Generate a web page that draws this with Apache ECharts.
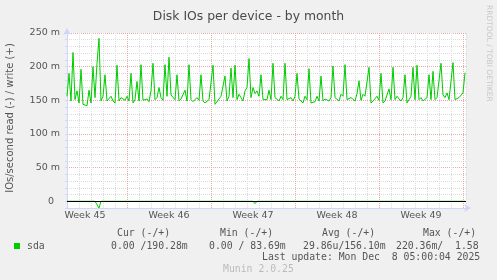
<!DOCTYPE html>
<html>
<head>
<meta charset="utf-8">
<script src="https://cdn.jsdelivr.net/npm/echarts@6/dist/echarts.min.js"></script>
<style>
html,body{margin:0;padding:0;background:#F0F0F0;}
#chart{width:497px;height:280px;}
</style>
</head>
<body>
<div id="chart"></div>
<script>
// ---- data ----
const titleText = 'Disk IOs per device - by month';
const yAxisTitle = 'IOs/second read (-) / write (+)';
const weekLabels = ['Week 45', 'Week 46', 'Week 47', 'Week 48', 'Week 49'];
const weekLabelHours = [84, 252, 420, 588, 756]; // hours from Mon Nov 3 00:00 (mid-week)
const yTickValues = [0, 50, 100, 150, 200, 250];
const startHour = 48;   // first sample (hours from Mon Nov 3 00:00)
const stepHours = 4;    // sample spacing
// write (+) IOs/s, milli units
const writeValues = [
  156,190,149,221,151,164,146,196,144,142,
  142,165,146,200,154,205,242,149,156,188,
  149,151,156,149,146,202,149,154,154,150,
  156,149,190,146,151,178,149,203,150,150,
  152,148,164,205,151,154,169,154,150,203,
  156,214,158,156,151,188,149,152,151,165,
  149,203,151,148,146,154,150,188,149,146,
  148,151,150,202,144,146,152,156,154,186,
  149,156,198,154,202,151,159,154,149,164,
  169,212,154,169,160,164,156,188,151,150,
  151,165,151,205,154,152,149,156,151,205,
  151,151,154,149,156,190,152,149,146,156,
  151,197,146,146,148,156,149,186,149,152,
  154,149,154,201,154,152,149,159,156,203,
  151,152,154,156,149,160,179,150,159,156,
  158,199,146,149,151,156,150,190,146,149,
  151,167,151,199,151,156,152,149,154,188,
  146,151,156,199,151,202,151,154,149,151,
  154,188,151,193,151,154,156,205,158,154,
  161,151,149,206,151,152,154,156,161,191
];
// read (-) IOs/s, milli units (drawn below zero)
const readValues = [
  0,0,0,0,0,0,0,0,0,0, 0,0,0,0,0,0,10,0,0,0,
  0,0,0,0,0,0,0,0,0,0, 0,0,0,0,0,0,0,0,0,0,
  0,0,0,0,0,0,0,0,0,0, 0,0,0,0,0,0,0,0,0,0,
  0,0,0,0,0,0,0,0,0,0, 0,0,0,0,0,0,0,0,0,0,
  0,0,0,0,0,0,0,0,0,0, 0,0,0,0,3.5,0,0,0,0,0,
  0,0,0,0,0,0,0,0,0,0, 0,0,0,0,0,0,0,0,0,0,
  0,0,0,0,0,0,0,0,0,0, 0,0,0,0,0,0,0,0,0,0,
  0,0,0,0,0,0,0,0,0,0, 0,0,0,0,0,0,0,0,0,0,
  0,0,0,0,0,0,0,0,0,0, 0,0,0,0,0,0,0,0,0,0,
  0,0,0,0,0,0,0,0,0,0, 0,0,0,0,0,0,0,0,0,0
];
const legendName = 'sda';
const legendHeaders = ['Cur (-/+)', 'Min (-/+)', 'Avg (-/+)', 'Max (-/+)'];
const legendValues = ['0.00 /190.28m', '0.00 / 83.69m', '29.86u/156.10m', '220.36m/  1.58'];
const lastUpdate = 'Last update: Mon Dec  8 05:00:04 2025';
const footer = 'Munin 2.0.25';
const watermark = 'RRDTOOL / TOBI OETIKER';

// ---- build ----
const writeData = writeValues.map((v, i) => [startHour + i * stepHours, v]);
const readData = readValues.map((v, i) => [startHour + i * stepHours, -v]);

const GREEN = '#00CC00';
const AXIS = '#CFD6F8';
const MINOR = '#dcdcdc';
const MAJOR = '#e9aaaa';
const FONT = '#555';
const MONO = 9.8;

const chart = echarts.init(document.getElementById('chart'));
const headerX = [117, 220, 322, 423];
const valueX = [111, 209, 303, 396];

const graphics = [
  {type: 'text', x: 10, y: 118, rotation: Math.PI / 2,
   style: {text: yAxisTitle, align: 'center', verticalAlign: 'middle', fontSize: 10, fontFamily: 'DejaVu Sans', fill: FONT}},
  {type: 'text', x: 489, y: 5, rotation: -Math.PI / 2,
   style: {text: watermark, align: 'left', verticalAlign: 'middle', fontSize: 7.5, fontFamily: 'DejaVu Sans', fill: '#c8c8c8'}},
  {type: 'rect', shape: {x: 14, y: 243, width: 6, height: 6}, style: {fill: GREEN}},
  {type: 'text', x: 27, y: 246, style: {text: legendName, align: 'left', verticalAlign: 'middle', fontSize: MONO, fontFamily: 'DejaVu Sans Mono', fill: FONT}},
  {type: 'text', x: 262, y: 257.5, style: {text: lastUpdate, align: 'left', verticalAlign: 'middle', fontSize: MONO, fontFamily: 'DejaVu Sans Mono', fill: FONT}},
  {type: 'text', x: 223, y: 269, style: {text: footer, align: 'left', verticalAlign: 'middle', fontSize: MONO, fontFamily: 'DejaVu Sans Mono', fill: '#bbbbbb'}}
];
legendHeaders.forEach((t, k) => graphics.push({type: 'text', x: headerX[k], y: 233.5,
  style: {text: t, align: 'left', verticalAlign: 'middle', fontSize: MONO, fontFamily: 'DejaVu Sans Mono', fill: FONT}}));
legendValues.forEach((t, k) => graphics.push({type: 'text', x: valueX[k], y: 246,
  style: {text: t, align: 'left', verticalAlign: 'middle', fontSize: MONO, fontFamily: 'DejaVu Sans Mono', fill: FONT}}));

chart.setOption({
  animation: false,
  backgroundColor: '#F0F0F0',
  title: {text: titleText, left: 'center', top: 6,
    textStyle: {fontSize: 12.4, fontWeight: 'normal', color: '#4a4a4a', fontFamily: 'DejaVu Sans'}},
  grid: {left: 67, right: 31, top: 33, bottom: 72, show: true, backgroundColor: '#FFFFFF', borderWidth: 0},
  xAxis: [
    {type: 'value', min: 48, max: 846, interval: 24,
     axisLine: {onZero: false, lineStyle: {color: AXIS, width: 1}, symbol: ['none', 'arrow'], symbolSize: [6, 7], symbolOffset: [0, 5]},
     axisTick: {show: false},
     axisLabel: {show: false},
     splitLine: {show: true, lineStyle: {color: [MINOR, MINOR, MINOR, MINOR, MINOR, MAJOR, MINOR], type: [1, 1], width: 1}}},
    {type: 'value', min: 48, max: 846, interval: 12, position: 'bottom',
     axisLine: {show: false}, axisTick: {show: false}, splitLine: {show: false},
     axisLabel: {margin: 3, fontSize: 9.5, fontFamily: 'DejaVu Sans', color: FONT,
       formatter: v => { const k = weekLabelHours.indexOf(v); return k >= 0 ? weekLabels[k] : ''; }}}
  ],
  yAxis: {type: 'value', min: -10, max: 250, interval: 10,
    axisLine: {show: true, lineStyle: {color: AXIS, width: 1}, symbol: ['none', 'arrow'], symbolSize: [6, 7], symbolOffset: [0, 5]},
    axisTick: {show: true, length: 2, lineStyle: {color: AXIS}},
    axisLabel: {margin: 7, fontSize: 9.5, fontFamily: 'DejaVu Sans', color: FONT,
      formatter: v => v === 0 ? '{z|0}' : (yTickValues.indexOf(v) >= 0 ? v + ' m' : ''),
      rich: {z: {padding: [0, 6, 0, 0], fontSize: 9.5, fontFamily: 'DejaVu Sans', color: FONT}}},
    splitLine: {show: true, lineStyle: {color: [MINOR, MAJOR, MINOR, MINOR, MINOR], type: [1, 1], width: 1}}},
  graphic: graphics,
  series: [
    {type: 'line', name: 'read', xAxisIndex: 0, data: readData, symbol: 'none',
     lineStyle: {color: GREEN, width: 1}, silent: true},
    {type: 'line', name: 'write', xAxisIndex: 0, data: writeData, symbol: 'none',
     lineStyle: {color: GREEN, width: 1}, silent: true,
     markLine: {silent: true, symbol: ['none', 'none'], label: {show: false},
       lineStyle: {color: '#000', type: 'solid', width: 1}, data: [{yAxis: 0}]}}
  ]
});
</script>
</body>
</html>
